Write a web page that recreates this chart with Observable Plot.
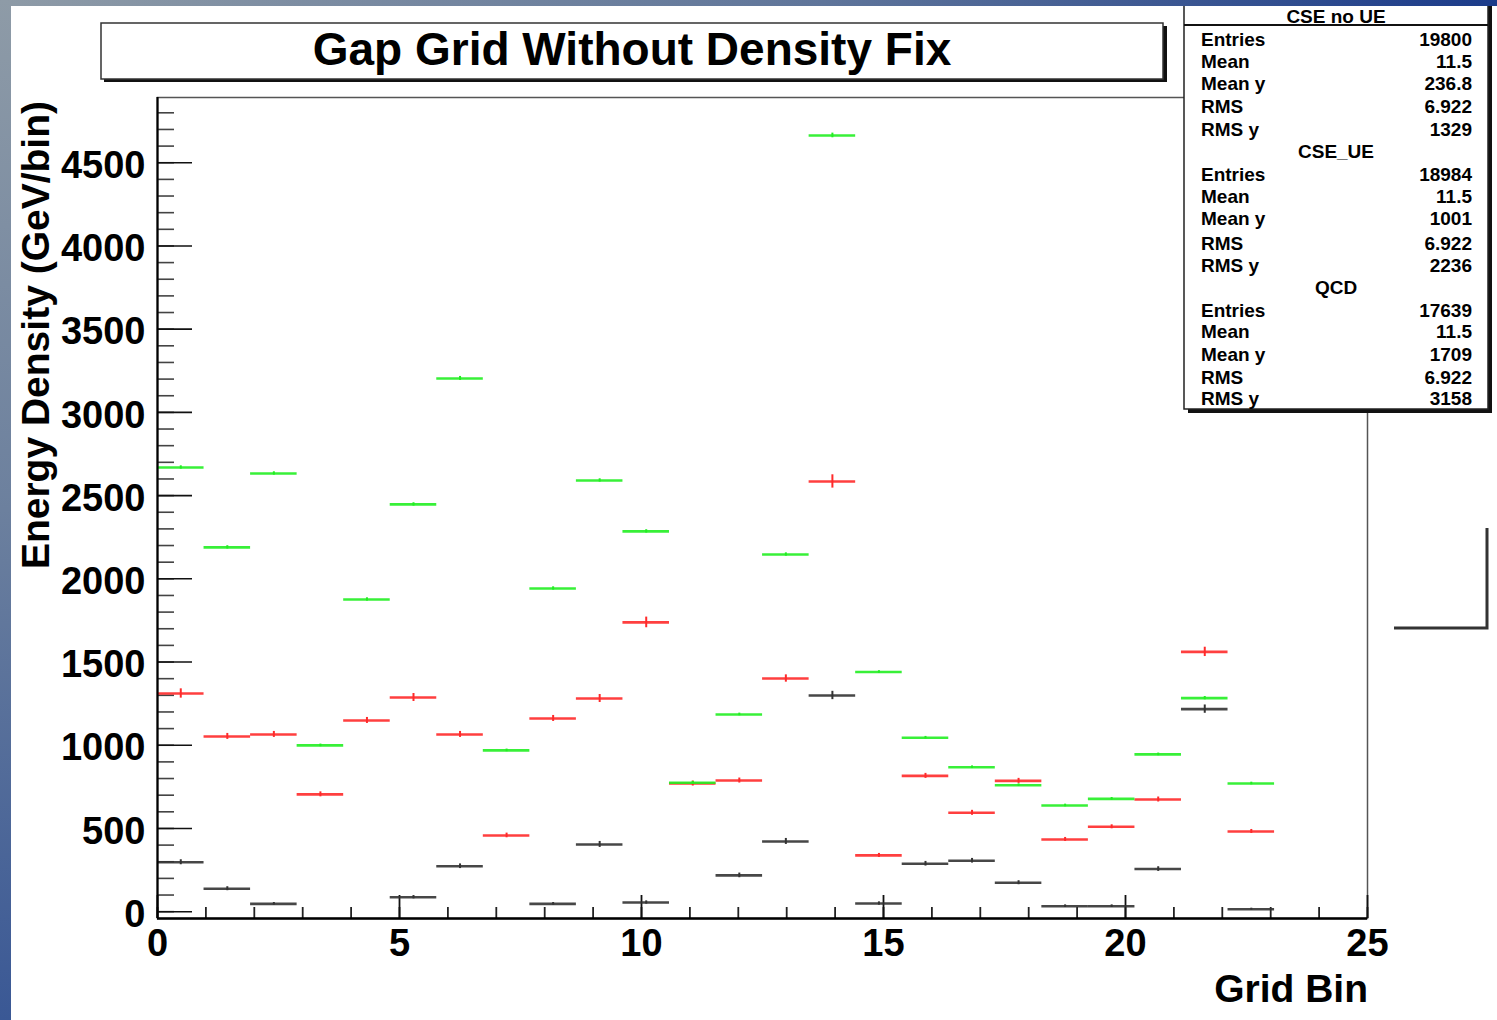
<!DOCTYPE html>
<html><head><meta charset="utf-8">
<script src="https://cdn.jsdelivr.net/npm/d3@7"></script>
<script src="https://cdn.jsdelivr.net/npm/@observablehq/plot@0.6"></script>
<style>
body{margin:0;background:#fff;}
#wrap{position:relative;width:1497px;height:1020px;overflow:hidden;background:#fff;font-family:"Liberation Sans",Arial,Helvetica,sans-serif;}
#plot,#overlay{position:absolute;left:0;top:0;}
#topband{position:absolute;left:0;top:0;width:1497px;height:6px;background:linear-gradient(to right,#8e9ba7,#5f759a 55%,#1b3b8a);}
#leftband{position:absolute;left:0;top:0;width:11px;height:1020px;background:linear-gradient(to bottom,#8e9ba7,#6c809e 50%,#3a5895);}
</style></head>
<body><div id="wrap"><div id="plot"></div><svg id="overlay" width="1497" height="1020"></svg><div id="topband"></div><div id="leftband"></div></div>
<script>
// ---- data ----
const histLo = 0, histHi = 23.08, nBins = 24;
const cseNoUE = [297,138,47,null,null,87,273,null,47,404,55,null,218,422,1299,49,288,306,174,33,33,256,1217,15];
const cseUE   = [1311,1053,1065,705,1149,1287,1065,458,1161,1281,1738,770,788,1401,2585,338,816,594,786,434,510,674,1561,482];
const qcd     = [2669,2189,2633,999,1876,2447,3204,969,1942,2591,2285,775,1185,2146,4664,1440,1045,868,760,638,678,945,1283,770];
const errNoUE = [15,12,8,null,null,10,14,null,8,18,10,null,14,18,25,10,14,14,12,8,8,14,25,6];
const errUE   = [28,18,18,15,18,24,18,14,18,24,32,15,15,22,40,12,15,15,15,12,12,15,28,12];
const errQCD  = [10,10,10,8,10,10,12,8,10,10,10,8,8,10,14,8,8,8,8,8,8,8,10,8];
const xMajor = [0,5,10,15,20,25];
const xMinor = d3.range(0,26,1);
const yMajor = [0,500,1000,1500,2000,2500,3000,3500,4000,4500];
const yMinor = d3.range(0,4900,100);
const statsTitles = ["CSE no UE","CSE_UE","QCD"];
const statLabels = ["Entries","Mean","Mean y","RMS","RMS y"];
const statValues = [["19800","11.5","236.8","6.922","1329"],["18984","11.5","1001","6.922","2236"],["17639","11.5","1709","6.922","3158"]];

// ---- build ----
const W = 1497, H = 1020;
const mL = 157, mR = 130, mT = 97, mB = 102;
const frameW = W - mL - mR, frameH = H - mT - mB;
const bw = (histHi - histLo) / nBins;
function rows(values, errs){
  return values.map((v,i)=> v==null ? null : {x1: histLo+i*bw, x2: histLo+(i+1)*bw, xc: histLo+(i+0.5)*bw, y: v, e: errs[i]}).filter(Boolean);
}
const sets = [
  {data: rows(cseNoUE, errNoUE), color: "#333333"},
  {data: rows(cseUE, errUE), color: "#ff2a2a"},
  {data: rows(qcd, errQCD), color: "#22ee22"}
];
const histMarks = sets.flatMap(s => [
  Plot.ruleY(s.data, {y: "y", x1: "x1", x2: "x2", stroke: s.color, strokeWidth: 2.6, strokeOpacity: 0.9}),
  Plot.ruleX(s.data, {x: "xc", y1: d => d.y - d.e, y2: d => d.y + d.e, stroke: s.color, strokeWidth: 2})
]);

const chart = Plot.plot({
  width: W, height: H,
  marginLeft: mL, marginRight: mR, marginTop: mT, marginBottom: mB,
  style: {fontFamily: '"Liberation Sans", Arial, Helvetica, sans-serif', background: "transparent", overflow: "visible"},
  x: {domain: [0, 25]},
  y: {domain: [-41, 4892]},
  marks: [
    Plot.frame({stroke: "#555", strokeWidth: 1.5}),
    Plot.ruleY(yMinor, {stroke: "#444", strokeWidth: 1.6, insetRight: frameW - 17}),
    Plot.ruleY(yMajor, {stroke: "#111", strokeWidth: 1.6, insetRight: frameW - 35}),
    Plot.ruleX(xMinor, {stroke: "#222", strokeWidth: 1.8, insetTop: frameH - 11}),
    Plot.ruleX(xMajor, {stroke: "#111", strokeWidth: 1.8, insetTop: frameH - 23}),
    ...histMarks,
    Plot.ruleX([0], {stroke: "#000", strokeWidth: 2.2}),
    Plot.ruleY([-41], {stroke: "#000", strokeWidth: 2.6}),
    Plot.axisY({ticks: yMajor, tickFormat: d => String(d), tickSize: 0, tickPadding: 12, fontSize: 38, fontWeight: "bold", fill: "#000", label: null, dy: 3}),
    Plot.axisX({ticks: xMajor, tickFormat: d => String(d), tickSize: 0, tickPadding: 11, fontSize: 38, fontWeight: "bold", fill: "#000", label: null})
  ]
});
document.getElementById("plot").appendChild(chart);

// ---- overlay: title, stats box, axis titles ----
const ov = d3.select("#overlay");
const ff = '"Liberation Sans", Arial, Helvetica, sans-serif';
// title box with shadow
ov.append("rect").attr("x",104).attr("y",26).attr("width",1063).attr("height",56).attr("fill","#111");
ov.append("rect").attr("x",101).attr("y",23).attr("width",1062).attr("height",56).attr("fill","#fff").attr("stroke","#333").attr("stroke-width",1.5);
ov.append("text").attr("x",632).attr("y",65).attr("text-anchor","middle").attr("font-family",ff).attr("font-weight","bold").attr("font-size",46).text("Gap Grid Without Density Fix");

// stats box
ov.append("rect").attr("x",1188).attr("y",4).attr("width",304).attr("height",409).attr("fill","#111");
ov.append("rect").attr("x",1184).attr("y",1).attr("width",304).attr("height",408).attr("fill","#fff").attr("stroke","#222").attr("stroke-width",1.5);
ov.append("line").attr("x1",1184).attr("x2",1488).attr("y1",25).attr("y2",25).attr("stroke","#111").attr("stroke-width",1.8);
const rowY = [[16,39,61,83,106,129],[151,174,196,218,243,265],[287,310,331,354,377,398]];
statsTitles.forEach((t,k)=>{
  ov.append("text").attr("x",1336).attr("y",rowY[k][0]+7).attr("text-anchor","middle").attr("font-family",ff).attr("font-weight","bold").attr("font-size",19).text(t);
  statLabels.forEach((lab,j)=>{
    ov.append("text").attr("x",1201).attr("y",rowY[k][j+1]+7).attr("font-family",ff).attr("font-weight","bold").attr("font-size",19).text(lab);
    ov.append("text").attr("x",1472).attr("y",rowY[k][j+1]+7).attr("text-anchor","end").attr("font-family",ff).attr("font-weight","bold").attr("font-size",19).text(statValues[k][j]);
  });
});
// leftover L-shaped pave edge at right
ov.append("path").attr("d","M1394,628 H1487 V528").attr("fill","none").attr("stroke","#333").attr("stroke-width",3);

// axis titles
ov.append("text").attr("transform","translate(49,101) rotate(-90)").attr("text-anchor","end").attr("font-family",ff).attr("font-weight","bold").attr("font-size",39).text("Energy Density (GeV/bin)");
ov.append("text").attr("x",1368).attr("y",1002).attr("text-anchor","end").attr("font-family",ff).attr("font-weight","bold").attr("font-size",39).text("Grid Bin");
</script>
</body></html>
